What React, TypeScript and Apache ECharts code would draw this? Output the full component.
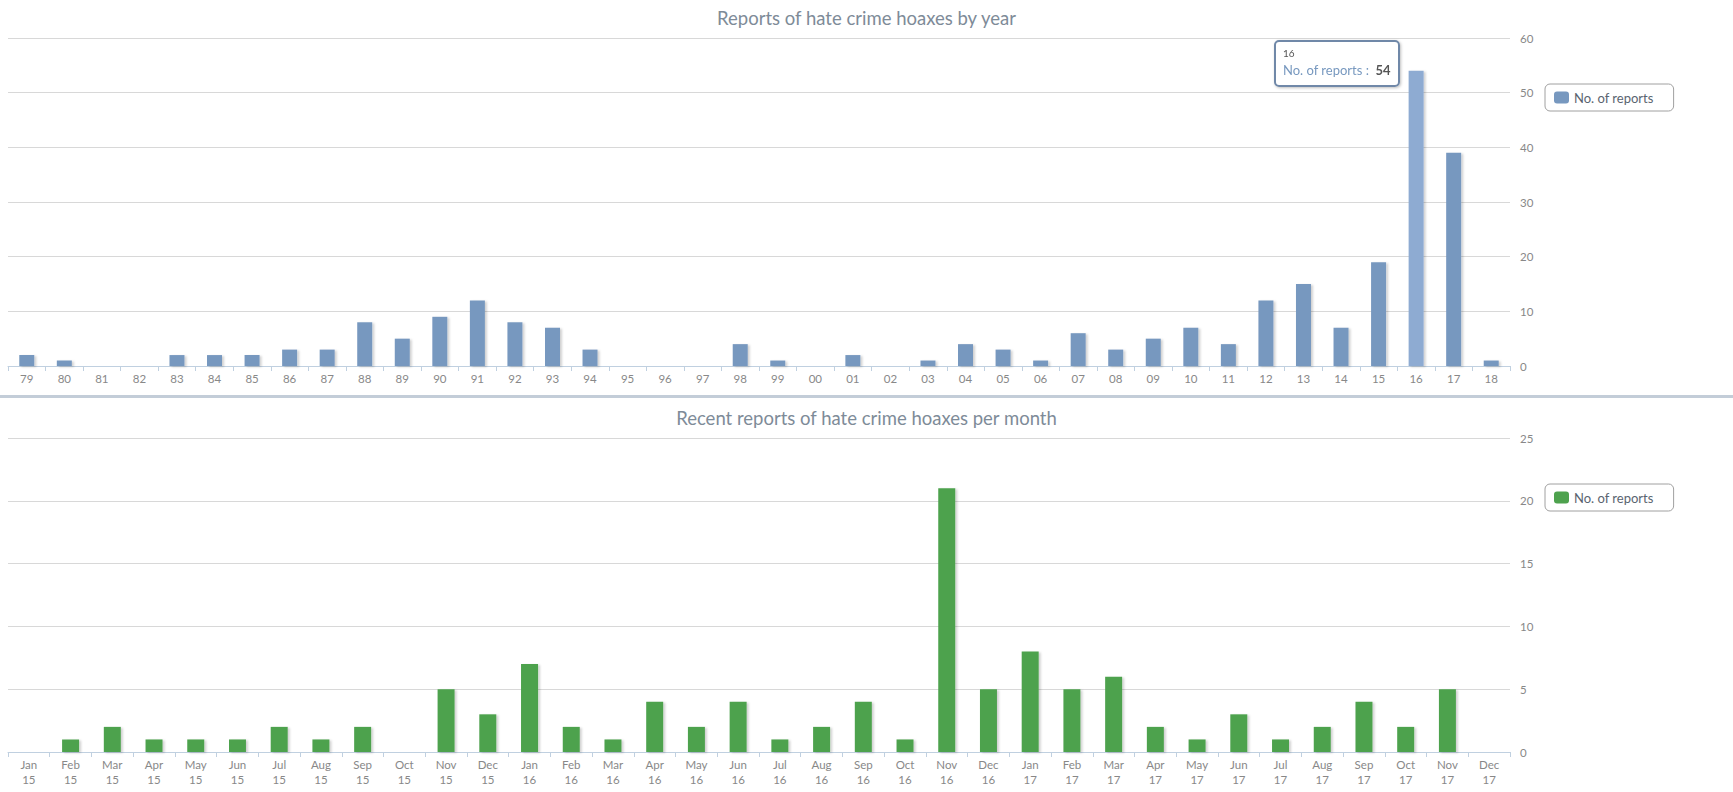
import React, { useEffect, useRef } from "react";
import * as echarts from "echarts";

const yearLabels = [
  "79", "80", "81", "82", "83", "84", "85", "86", "87", "88",
  "89", "90", "91", "92", "93", "94", "95", "96", "97", "98",
  "99", "00", "01", "02", "03", "04", "05", "06", "07", "08",
  "09", "10", "11", "12", "13", "14", "15", "16", "17", "18",
];
const yearValues = [
  2, 1, 0, 0, 2, 2, 2, 3, 3, 8,
  5, 9, 12, 8, 7, 3, 0, 0, 0, 4,
  1, 0, 2, 0, 1, 4, 3, 1, 6, 3,
  5, 7, 4, 12, 15, 7, 19, 54, 39, 1,
];

const monthLabels = [
  "Jan\n15", "Feb\n15", "Mar\n15", "Apr\n15", "May\n15", "Jun\n15",
  "Jul\n15", "Aug\n15", "Sep\n15", "Oct\n15", "Nov\n15", "Dec\n15",
  "Jan\n16", "Feb\n16", "Mar\n16", "Apr\n16", "May\n16", "Jun\n16",
  "Jul\n16", "Aug\n16", "Sep\n16", "Oct\n16", "Nov\n16", "Dec\n16",
  "Jan\n17", "Feb\n17", "Mar\n17", "Apr\n17", "May\n17", "Jun\n17",
  "Jul\n17", "Aug\n17", "Sep\n17", "Oct\n17", "Nov\n17", "Dec\n17",
];
const monthValues = [
  0, 1, 2, 1, 1, 1, 2, 1, 2, 0, 5, 3,
  7, 2, 1, 4, 2, 4, 1, 2, 4, 1, 21, 5,
  8, 5, 6, 2, 1, 3, 1, 2, 4, 2, 5, 0,
];

const yearTicks = { min: 0, max: 60, interval: 10 };
const monthTicks = { min: 0, max: 25, interval: 5 };

const seriesLabel = "No. of reports";
const yearTitle = "Reports of hate crime hoaxes by year";
const monthTitle = "Recent reports of hate crime hoaxes per month";
const tooltipIndex = 37;

const FONT = "Lato, 'DejaVu Sans', sans-serif";
const BLUE = "#7798BF";
const BLUE_HOVER = "#8EABD2";
const GREEN = "#4EA24E";

export default function App() {
  const ref = useRef<HTMLDivElement>(null);

  useEffect(() => {
    document.body.style.margin = "0";
    const chart = echarts.init(ref.current!, undefined, { renderer: "svg" });

    const xAxisCommon = {
      type: "category" as const,
      axisLine: { lineStyle: { color: "#C0D0E0", width: 1 } },
      axisTick: { show: true, length: 5, lineStyle: { color: "#C0D0E0" } },
      axisLabel: {
        interval: 0,
        color: "#888888",
        fontSize: 11.5,
        fontFamily: FONT,
        margin: 5,
        lineHeight: 15,
      },
      splitLine: { show: false },
    };
    const yAxisCommon = {
      type: "value" as const,
      position: "right" as const,
      axisLine: { show: false },
      axisTick: { show: false },
      axisLabel: { color: "#888888", fontSize: 11.5, fontFamily: FONT, margin: 10 },
      splitLine: { lineStyle: { color: "#D8D8D8", width: 1 } },
    };
    const legendCommon = {
      orient: "vertical" as const,
      icon: "roundRect",
      itemWidth: 15,
      itemHeight: 12,
      itemGap: 6,
      borderColor: "#A0A0A0",
      borderWidth: 1,
      borderRadius: 5,
      padding: [7, 20, 7, 9],
      selectedMode: false,
      formatter: () => seriesLabel,
      textStyle: { color: "#5a6470", fontSize: 13, fontFamily: FONT },
    };
    const shadow = {
      shadowColor: "rgba(0,0,0,0.18)",
      shadowBlur: 2,
      shadowOffsetX: 2,
      shadowOffsetY: 1,
    };
    const titleStyle = { color: "#7E8B98", fontSize: 18.5, fontWeight: "normal" as const, fontFamily: FONT };

    chart.setOption({
      animation: false,
      textStyle: { fontFamily: FONT },
      title: [
        { text: yearTitle, left: "center", top: 3, textStyle: titleStyle },
        { text: monthTitle, left: "center", top: 403, textStyle: titleStyle },
      ],
      legend: [
        { ...legendCommon, left: 1545, top: 84, data: ["years"] },
        { ...legendCommon, left: 1545, top: 484, data: ["months"] },
      ],
      grid: [
        { left: 8, right: 223, top: 38, height: 328, containLabel: false },
        { left: 8, right: 223, top: 438, height: 314, containLabel: false },
      ],
      xAxis: [
        { ...xAxisCommon, gridIndex: 0, data: yearLabels },
        { ...xAxisCommon, gridIndex: 1, data: monthLabels },
      ],
      yAxis: [
        { ...yAxisCommon, gridIndex: 0, ...yearTicks },
        { ...yAxisCommon, gridIndex: 1, ...monthTicks },
      ],
      tooltip: {
        trigger: "item",
        alwaysShowContent: true,
        transitionDuration: 0,
        showDelay: 0,
        backgroundColor: "rgba(255,255,255,0.96)",
        borderColor: "#7088A8",
        borderWidth: 2,
        borderRadius: 5,
        padding: [3, 7, 6, 7],
        extraCssText: "box-shadow: 1px 1px 3px rgba(0,0,0,0.25);",
        position: () => [1274, 40],
        formatter: (p: any) =>
          `<div style="font-family:${FONT};line-height:17px">` +
          `<div style="font-size:10px;color:#555">${p.name}</div>` +
          `<div style="font-size:13px"><span style="color:${BLUE}">${seriesLabel} : </span>` +
          `<b style="color:#555">&nbsp;${p.value}</b></div></div>`,
      },
      graphic: [
        {
          type: "rect",
          shape: { x: 0, y: 395, width: 1733, height: 3 },
          style: { fill: "#C3CDD8" },
          silent: true,
        },
      ],
      series: [
        {
          name: "years",
          type: "bar",
          xAxisIndex: 0,
          yAxisIndex: 0,
          data: yearValues,
          barWidth: 15,
          itemStyle: { color: BLUE, ...shadow },
          emphasis: { itemStyle: { color: BLUE_HOVER } },
        },
        {
          name: "months",
          type: "bar",
          xAxisIndex: 1,
          yAxisIndex: 1,
          data: monthValues,
          barWidth: 17,
          itemStyle: { color: GREEN, ...shadow },
          emphasis: { itemStyle: { color: GREEN } },
        },
      ],
    });

    chart.dispatchAction({ type: "highlight", seriesIndex: 0, dataIndex: tooltipIndex });
    chart.dispatchAction({ type: "showTip", seriesIndex: 0, dataIndex: tooltipIndex });

    return () => chart.dispose();
  }, []);

  return (
    <div
      ref={ref}
      style={{ position: "fixed", left: 0, top: 0, width: 1733, height: 792, background: "#fff" }}
    />
  );
}
